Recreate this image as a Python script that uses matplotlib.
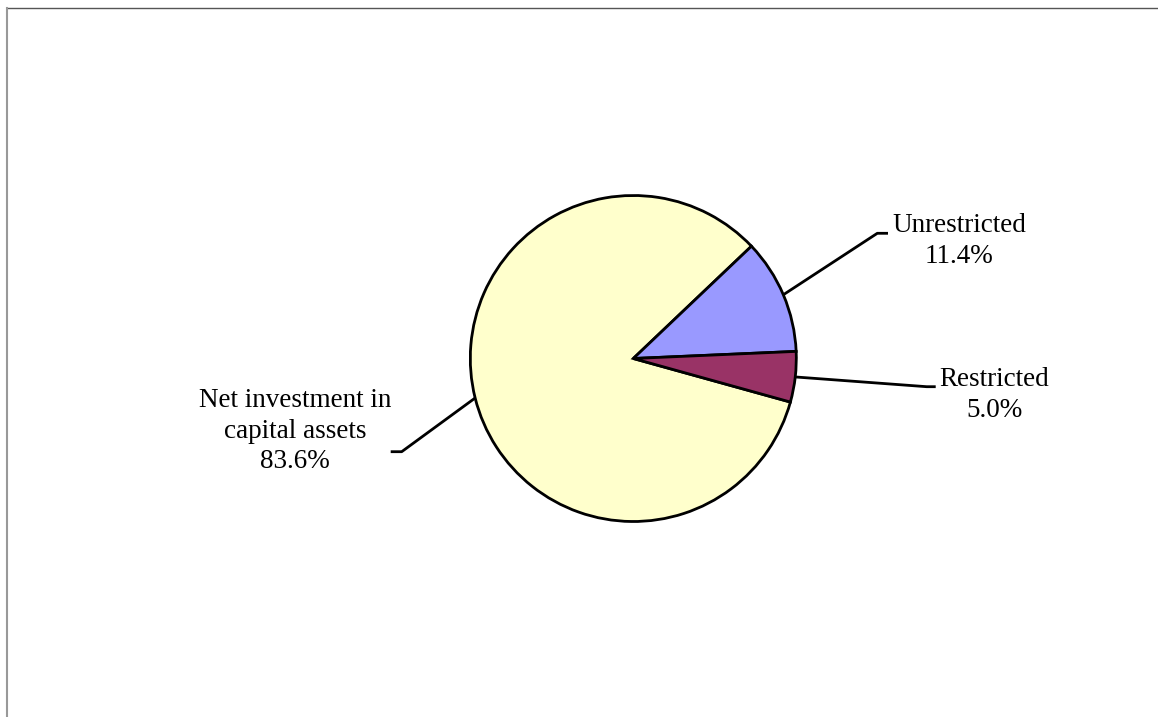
import numpy as np
import matplotlib
matplotlib.use("Agg")
import matplotlib.pyplot as plt
from matplotlib.lines import Line2D

# data
labels = ["Net investment in\ncapital assets", "Unrestricted", "Restricted"]
shares = [83.6, 11.4, 5.0]
colors = ["#FFFFCC", "#9999FF", "#993366"]

W, H = 1158, 717
fig = plt.figure(figsize=(W / 100, H / 100), dpi=100)
ax = fig.add_axes([0, 0, 1, 1])
ax.set_xlim(0, W)
ax.set_ylim(0, H)
ax.axis("off")

cx, cy, r = 633.3, H - 358.5, 163
wedges, _ = ax.pie(shares, colors=colors, center=(cx, cy), radius=r,
                   startangle=344.5, counterclock=False,
                   wedgeprops=dict(edgecolor="black", linewidth=2.0))
ax.set_xlim(0, W)
ax.set_ylim(0, H)
ax.set_aspect("equal")

# label layout: elbow point, end of leader, text centre (pixel coords, y down)
layout = [
    ((401.7, 451.7), (390.7, 451.7), (295, 431)),
    ((877.3, 233.3), (888.0, 233.3), (959, 241)),
    ((926.7, 386.7), (935.7, 386.7), (994, 395)),
]

for w, lab, val, (elb, end, txt) in zip(wedges, labels, shares, layout):
    mid = np.deg2rad((w.theta1 + w.theta2) / 2)
    x0, y0 = cx + r * np.cos(mid), cy + r * np.sin(mid)
    ax.plot([x0, elb[0], end[0]], [y0, H - elb[1], H - end[1]],
            color="black", lw=2.0, solid_capstyle="butt")
    ax.text(txt[0], H - txt[1], f"{lab}\n{val:.1f}%", ha="center", va="center",
            fontsize=19.5, family="Liberation Serif", linespacing=1.27)

# chart frame (only top and left edges visible)
fig.add_artist(Line2D([7 / W, 1], [1 - 8 / H, 1 - 8 / H], transform=fig.transFigure,
                      color="#555555", lw=1.0))
fig.add_artist(Line2D([7 / W, 7 / W], [0, 1 - 8 / H], transform=fig.transFigure,
                      color="#999999", lw=1.5))

fig.savefig("out.png", dpi=100)
